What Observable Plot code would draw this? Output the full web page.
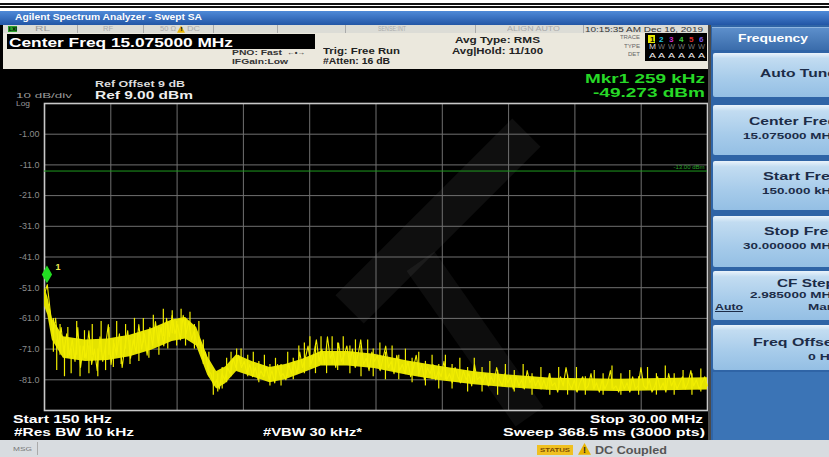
<!DOCTYPE html>
<html><head><meta charset="utf-8">
<script src="https://cdn.jsdelivr.net/npm/d3@7"></script>
<script src="https://cdn.jsdelivr.net/npm/@observablehq/plot@0.6"></script>
<style>
html,body{margin:0;padding:0}
body{width:829px;height:457px;overflow:hidden;position:relative;background:#000;font-family:"Liberation Sans",Arial,sans-serif}
.abs{position:absolute}
.t{position:absolute;white-space:nowrap;line-height:1;transform-origin:0 50%}
</style></head><body>
<script>
// ---------------- DATA ----------------
const startMHz = 0.15;
const stopMHz = 30.0;
const refLevel = 9;       // dBm (top of graticule)
const dbPerDiv = 10;
const yTickValues = [-1, -11, -21, -31, -41, -51, -61, -71, -81];
const yTickLabels = ["-1.00", "-11.0", "-21.0", "-31.0", "-41.0", "-51.0", "-61.0", "-71.0", "-81.0"];
const xDivisions = [3.135, 6.12, 9.105, 12.09, 15.075, 18.06, 21.045, 24.03, 27.015];
const displayLineDbm = [-13];
const markerFreq = [0.259];
const markerDbm = [-49.273];

// trace readings (dBm), evenly spaced sweep points from start to stop
const traceDbm = [
  -53, -50, -58, -66, -61, -70, -64, -72, -66, -73,
  -68, -75, -64, -77, -70, -74, -65, -76, -71, -78,
  -67, -75, -70, -63, -76, -69, -73, -66, -77, -70,
  -65, -74, -68, -72, -63, -71, -66, -73, -64, -70,
  -62, -69, -64, -70, -61, -67, -60, -66, -63, -68,
  -60, -66, -62, -68, -65, -70, -68, -74, -72, -78,
  -79, -83, -81, -84, -79, -81, -77, -79, -74, -77,
  -73, -77, -75, -79, -76, -80, -77, -81, -78, -80,
  -77, -81, -78, -82, -76, -80, -79, -81, -76, -79,
  -75, -79, -72, -77, -74, -70, -76, -73, -68, -75,
  -71, -76, -67, -74, -72, -77, -69, -75, -73, -70,
  -76, -71, -77, -73, -68, -76, -74, -78, -72, -75,
  -73, -78, -74, -70, -77, -75, -79, -73, -78, -76,
  -79, -75, -80, -77, -73, -79, -76, -81, -77, -79,
  -76, -81, -78, -80, -75, -81, -79, -82, -77, -80,
  -82, -78, -81, -79, -83, -76, -81, -80, -82, -79,
  -83, -80, -82, -77, -81, -83, -79, -82, -80, -84,
  -80, -83, -81, -84, -78, -82, -80, -83, -81, -84,
  -81, -84, -79, -83, -82, -85, -80, -83, -77, -82,
  -84, -81, -85, -82, -80, -84, -83, -79, -84, -82,
  -85, -81, -84, -82, -78, -84, -83, -85, -81, -84,
  -82, -85, -80, -84, -83, -77, -83, -84, -81, -85,
  -83, -80, -84, -82, -85, -79, -83, -81, -84, -82,
  -80, -84, -82, -78, -83, -81, -84, -82, -80, -83
];

// solid core of the noisy trace (MHz, low dBm, high dBm)
const bandFreq = [0.15, 0.3, 0.5, 1.0, 2.0, 3.0, 4.0, 5.0, 5.9, 6.5, 7.0, 7.5, 7.9, 8.3, 8.8, 9.5, 10.3, 11.0, 11.8, 12.6, 13.8, 15.0, 16.5, 18.0, 19.5, 21.0, 23.0, 26.0, 30.0];
const bandLo   = [-57, -60, -68, -74, -75, -74.7, -73.5, -71.3, -68.5, -67.7, -70, -79.5, -84, -82.3, -78.3, -80, -82, -81, -78.8, -76.5, -76.5, -77.3, -79.5, -81.3, -82.6, -83.6, -84.5, -84.8, -84.3];
const bandHi   = [-51, -54, -61, -67, -68, -67.7, -66.5, -64.3, -61.5, -60.7, -64, -73.5, -78.3, -76.8, -72.8, -75, -77, -76, -74.2, -71.8, -71.8, -72.7, -74.9, -76.7, -78.4, -79.4, -80.5, -80.8, -80.3];

// individual noise spikes (MHz, bottom dBm, top dBm)
const spikeFreq = [0.55, 0.7, 0.85, 1.05, 1.2, 1.35, 1.6, 1.75, 1.95, 2.15, 2.3, 2.55, 2.7, 2.9, 3.05,
  3.25, 3.4, 3.6, 3.8, 4.0, 4.2, 4.4, 4.6, 4.85, 5.05, 5.3,
  5.5, 5.7, 5.9, 6.1, 6.3, 6.5, 6.7, 6.9, 7.1, 7.3,
  7.55, 7.75, 7.95, 8.15, 8.35, 8.55,
  8.8, 9.0, 9.3, 9.55, 9.8, 10.05, 10.3, 10.55, 10.8, 11.1, 11.35,
  11.6, 11.85, 12.1, 12.35, 12.6, 12.85, 13.1, 13.35, 13.6, 13.9, 14.15, 14.4, 14.7, 14.95, 15.25, 15.5, 15.8,
  16.1, 16.4, 16.7, 17.0, 17.3, 17.6, 17.9, 18.2, 18.5, 18.85, 19.2, 19.5, 19.85, 20.2, 20.55, 20.9, 21.3, 21.7,
  22.1, 22.5, 22.9, 23.3, 23.7, 24.1, 24.5, 24.9, 25.3, 25.7, 26.1, 26.5, 26.9, 27.3, 27.7, 28.1, 28.5, 28.9, 29.3, 29.7];
const spikeLo = [-72, -78, -73, -80, -74, -79, -73, -80, -74, -79, -73, -80, -72, -78, -73,
  -77, -72, -76, -71, -76, -70, -75, -69, -74, -68, -73,
  -67, -71, -66, -70, -65, -70, -65, -71, -70, -76,
  -80, -86, -85, -84, -82, -80,
  -78, -76, -80, -79, -82, -80, -83, -81, -83, -80, -81,
  -78, -79, -77, -79, -76, -79, -76, -78, -76, -79, -77, -80, -77, -80, -78, -81, -78,
  -81, -79, -82, -80, -83, -81, -84, -81, -84, -82, -85, -82, -85, -83, -86, -83, -85, -84,
  -86, -84, -86, -84, -86, -85, -86, -84, -86, -84, -86, -85, -86, -84, -86, -84, -86, -84, -86, -85];
const spikeHi = [-61, -68, -63, -70, -64, -71, -62, -70, -65, -70, -63, -71, -62, -70, -64,
  -68, -62, -67, -63, -68, -61, -66, -61, -65, -60, -64,
  -58, -63, -58.5, -62, -58, -61, -59, -63, -62, -68,
  -72, -78, -79, -77, -74, -72,
  -71, -71, -73, -72, -75, -73, -76, -74, -76, -72, -74,
  -70, -69, -67, -70, -67, -70, -67, -69, -67, -70, -68, -70, -68, -71, -69, -72, -70,
  -73, -71, -74, -72, -75, -73, -76, -73, -76, -74, -77, -74, -77, -75, -78, -76, -78, -76,
  -79, -77, -79, -77, -79.5, -77, -80, -78, -79, -76.5, -79, -78, -80, -77, -79, -76.5, -79, -78, -79, -77.5];

// ---------------- UI helpers ----------------
function box(x, y, w, h, bg, extra, parent) {
  const d = document.createElement('div');
  d.className = 'abs';
  Object.assign(d.style, {left: x + 'px', top: y + 'px', width: w + 'px', height: h + 'px', background: bg}, extra || {});
  (parent || document.body).appendChild(d);
  return d;
}
function T(s, x, yc, w, size, color, opts = {}) {
  const d = document.createElement('div');
  d.className = 't';
  d.textContent = s;
  d.style.left = x + 'px';
  d.style.top = (yc - 0.5 * size) + 'px';
  d.style.fontSize = size + 'px';
  d.style.color = color;
  d.style.fontWeight = opts.weight || 'bold';
  if (opts.underline) d.style.textDecoration = 'underline';
  (opts.parent || document.body).appendChild(d);
  const actual = d.getBoundingClientRect().width;
  if (w && actual > 0) d.style.transform = `scaleX(${w / actual})`;
  return d;
}
function warn(x, y, s) {
  const d = box(x, y, s, s * 0.9, '#e8b400', {clipPath: 'polygon(50% 0, 100% 100%, 0 100%)'});
  T('!', x + s / 2 - 1.5, y + s * 0.55, 3, s * 0.7, '#222');
  return d;
}

// top chrome
box(0, 0, 829, 11, '#fff');
box(0, 3, 829, 2, '#111');
box(0, 6, 829, 1.5, '#111');
box(0, 11, 829, 14, 'linear-gradient(#4f8ad8,#2256a6)');
T('Agilent Spectrum Analyzer - Swept SA', 15, 17.5, 187, 8.5, '#fff');

// status row
box(3, 25, 705, 8, '#dcdcd6');
[77, 143, 213, 277, 345, 475, 583].forEach(x => box(x, 25, 1, 8, '#aaa'));
box(8, 26, 9, 6, '#2ca02c');
T('LXI', 8.5, 29.3, 8, 5, '#000');
T('RL', 35, 29.5, 15, 6.5, '#999', {weight: 'normal'});
T('RF', 103, 29.5, 10, 6.5, '#aaa', {weight: 'normal'});
T('50 Ω', 160, 29.5, 16, 6.5, '#aaa', {weight: 'normal'});
warn(177, 25.5, 8);
T('DC', 187, 29.5, 13, 6.5, '#aaa', {weight: 'normal'});
T('SENSE:INT', 378, 29.5, 28, 6.5, '#aaa', {weight: 'normal'});
T('ALIGN AUTO', 507, 29.5, 53, 6.5, '#aaa', {weight: 'normal'});
T('10:15:35 AM Dec 16, 2019', 585, 29.5, 118, 7, '#333', {weight: 'normal'});

// info area
box(3, 33, 705, 36, '#ebe8dd');
box(7, 34, 308, 15, '#000');
T('Center Freq 15.075000 MHz', 9, 42, 224, 13, '#fff');
T('PNO: Fast', 232, 53, 50, 8, '#333');
T('←•→', 287, 53, 18, 8, '#333');
T('IFGain:Low', 232, 62, 56, 8, '#333');
T('Trig: Free Run', 323, 51, 77, 9, '#222');
T('#Atten: 16 dB', 323, 61, 67, 9, '#222');
T('Avg Type: RMS', 455, 40, 85, 9, '#222');
T('Avg|Hold: 11/100', 452, 51, 91, 9, '#222');
T('TRACE', 620, 38, 20, 5.5, '#666', {weight: 'normal'});
T('TYPE', 624, 46.5, 16, 5.5, '#666', {weight: 'normal'});
T('DET', 628, 55, 12, 5.5, '#666', {weight: 'normal'});
box(645, 33, 62, 28, '#000');
const trColors = ['#111', '#22c4e4', '#d030d0', '#40d040', '#e03030', '#7a5ae8'];
trColors.forEach((c, k) => {
  if (k === 0) box(648, 35, 7, 8, '#e8e800');
  T(String(k + 1), 649.5 + k * 9.8, 39, 4.5, 7, c);
  T(k === 0 ? 'M' : 'W', 648.5 + k * 9.8, 47, 7, 6.5, k === 0 ? '#ddd' : '#777', {weight: 'normal'});
  T('A', 648.5 + k * 9.8, 55.5, 7, 7.5, '#eee', {weight: 'normal'});
});

// faint watermark on the screen
box(313, 201, 250, 40, 'rgba(255,255,255,0.06)', {transform: 'rotate(-45deg)'});
box(380, 322, 190, 34, 'rgba(255,255,255,0.05)', {transform: 'rotate(55deg)'});

// graticule labels
T('Ref Offset 9 dB', 95, 84, 90, 9, '#ddd');
T('Ref 9.00 dBm', 95, 95.5, 98, 11, '#eee');
T('10 dB/div', 16, 95.5, 56, 8, '#9a9a9a', {weight: 'normal'});
T('Log', 16, 104, 14, 7.5, '#9a9a9a', {weight: 'normal'});
T('Mkr1 259 kHz', 585, 78, 120, 13, '#27d827');
T('-49.273 dBm', 593, 92, 112, 13, '#27d827');

// ---------------- PLOT ----------------
const nPts = traceDbm.length;
const trace = traceDbm.map((v, i) => ({f: startMHz + i * (stopMHz - startMHz) / (nPts - 1), v}));
const band = bandFreq.map((f, i) => ({f, lo: bandLo[i], hi: bandHi[i]}));
const spikes = spikeFreq.map((f, i) => ({f, lo: spikeLo[i], hi: spikeHi[i]}));
const marker = markerFreq.map((f, i) => ({f, v: markerDbm[i]}));
const yellow = '#f2ee00';

const chart = Plot.plot({
  width: 712, height: 345,
  marginLeft: 44, marginRight: 5, marginTop: 33, marginBottom: 5,
  x: {domain: [startMHz, stopMHz], axis: null},
  y: {domain: [refLevel - 10 * dbPerDiv, refLevel], axis: null},
  style: {background: 'transparent', color: '#8a8a8a', fontFamily: '"Liberation Sans", Arial, sans-serif'},
  marks: [
    Plot.ruleX(xDivisions, {stroke: '#707070', strokeWidth: 1}),
    Plot.ruleY(yTickValues, {stroke: '#707070', strokeWidth: 1}),
    Plot.frame({stroke: '#c8c8c8', strokeWidth: 1.6}),
    Plot.axisY({ticks: yTickValues, tickSize: 0, tickPadding: 5, label: null,
      tickFormat: d => yTickLabels[yTickValues.indexOf(d)], fill: '#8c8c8c', fontSize: 9}),
    Plot.ruleY(displayLineDbm, {stroke: '#1f9a1f', strokeWidth: 1}),
    Plot.text(displayLineDbm, {x: stopMHz, y: d => d, text: d => d.toFixed(2) + ' dBm', textAnchor: 'end', dx: -3, dy: -4, fill: '#2aa02a', fontSize: 6}),
    Plot.areaY(band, {x: 'f', y1: 'lo', y2: 'hi', fill: '#e4e200'}),
    Plot.ruleX(spikes, {x: 'f', y1: 'lo', y2: 'hi', stroke: yellow, strokeWidth: 1.2}),
    Plot.lineY(trace, {x: 'f', y: 'v', stroke: yellow, strokeWidth: 1.1}),
    Plot.dot(marker, {x: 'f', y: 'v', symbol: 'diamond', r: 4.5, fill: '#22dd22', stroke: '#22dd22', dy: -8}),
    Plot.text(marker, {x: 'f', y: 'v', text: () => '1', dx: 11, dy: -15, fill: '#eeee50', fontSize: 9, fontWeight: 'bold'})
  ]
});
const holder = document.createElement('div');
holder.className = 'abs';
holder.style.left = '0px';
holder.style.top = '70px';
holder.appendChild(chart);
document.body.appendChild(holder);

// bottom labels
T('Start 150 kHz', 13, 419, 99, 11, '#fff');
T('#Res BW 10 kHz', 14, 432, 120, 11, '#fff');
T('#VBW 30 kHz*', 263, 432, 99, 11, '#fff');
T('Stop 30.00 MHz', 590, 419, 113, 11, '#fff');
T('Sweep  368.5 ms (3000 pts)', 503, 432, 202, 11, '#fff');

// status bar
box(0, 440, 829, 17, '#d8dce0');
box(37, 442, 1, 13, '#aaa');
T('MSG', 13, 449, 19, 6, '#777', {weight: 'normal'});
box(537, 445, 36, 10, '#f0c020');
T('STATUS', 540, 450, 30, 6, '#7a4a00');
warn(578, 443, 13);
T('DC Coupled', 595, 450, 72, 11, '#555');

// right softkey panel
box(708, 25, 3, 415, '#4a4a4a');
const panel = box(711, 25, 118, 415, '#2f64a6', {overflow: 'hidden'});
box(1, 2, 117, 22, 'linear-gradient(#5d8fcb,#3a6cab)', {borderTop: '1px solid #8fb6e0'}, panel);
T('Frequency', 27, 13, 70, 10.5, '#fff', {parent: panel});
const keys = [[53, 97], [105, 155], [161, 210], [216, 267], [271, 320], [325, 370]];
keys.forEach(([a, b]) => box(2, a - 25, 118, b - a, 'linear-gradient(#eaf3fb 0,#c2dcf1 12%,#a6cbea 60%,#94bfe4 100%)', {borderRadius: '2px'}, panel));
box(2, 372 - 25, 118, 68, '#3b74b6', {}, panel);
const ink = '#1c2c48';
T('Auto Tune', 760 - 711, 74 - 25, 76, 11.5, ink, {parent: panel});
T('Center Freq', 749 - 711, 122 - 25, 88, 11.5, ink, {parent: panel});
T('15.075000 MHz', 743 - 711, 136 - 25, 95, 9.5, ink, {parent: panel});
T('Start Freq', 763 - 711, 177 - 25, 77, 11.5, ink, {parent: panel});
T('150.000 kHz', 762 - 711, 191 - 25, 76, 9.5, ink, {parent: panel});
T('Stop Freq', 764 - 711, 232 - 25, 74, 11.5, ink, {parent: panel});
T('30.000000 MHz', 743 - 711, 246 - 25, 95, 9.5, ink, {parent: panel});
T('CF Step', 777 - 711, 284 - 25, 58, 11.5, ink, {parent: panel});
T('2.985000 MHz', 750 - 711, 295 - 25, 88, 9.5, ink, {parent: panel});
T('Auto', 715 - 711, 307 - 25, 28, 9.5, ink, {parent: panel, underline: true});
T('Man', 808 - 711, 307 - 25, 27, 9.5, ink, {parent: panel});
T('Freq Offset', 753 - 711, 343 - 25, 85, 11.5, ink, {parent: panel});
T('0 Hz', 808 - 711, 357 - 25, 29, 9.5, ink, {parent: panel});
</script>
</body></html>
